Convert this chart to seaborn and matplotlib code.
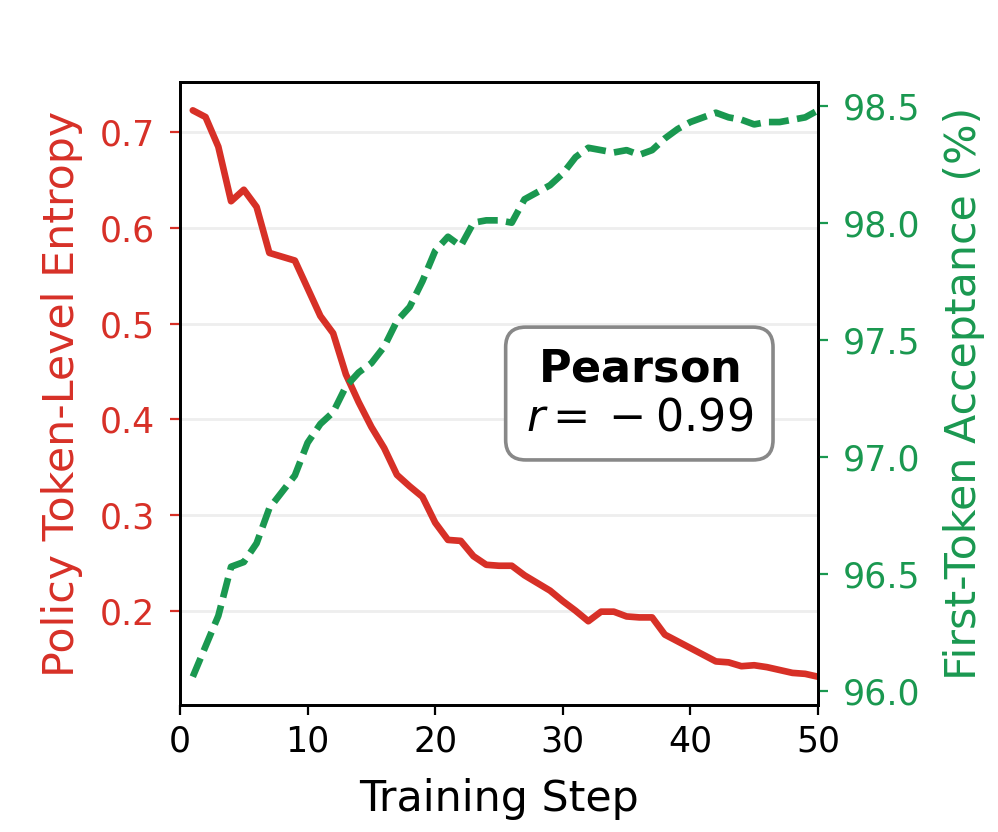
import numpy as np
import matplotlib
matplotlib.use("Agg")
import matplotlib.pyplot as plt
import pandas as pd
import seaborn as sns

# dados
steps = list(range(1, 51))
entropy = [0.723, 0.716, 0.685, 0.628, 0.640, 0.622, 0.574, 0.570, 0.566, 0.537,
           0.508, 0.490, 0.447, 0.418, 0.392, 0.370, 0.342, 0.330, 0.319, 0.292,
           0.274, 0.273, 0.257, 0.248, 0.247, 0.247, 0.237, 0.229, 0.221, 0.210,
           0.200, 0.189, 0.199, 0.199, 0.194, 0.193, 0.193, 0.175, 0.168, 0.161,
           0.154, 0.147, 0.146, 0.142, 0.143, 0.141, 0.138, 0.135, 0.134, 0.131]
acceptance = [96.06, 96.19, 96.32, 96.53, 96.55, 96.63, 96.78, 96.85, 96.92, 97.06,
              97.14, 97.19, 97.30, 97.36, 97.40, 97.47, 97.58, 97.64, 97.75, 97.88,
              97.94, 97.90, 98.00, 98.01, 98.01, 98.00, 98.10, 98.13, 98.16, 98.21,
              98.28, 98.32, 98.31, 98.30, 98.31, 98.29, 98.31, 98.36, 98.40, 98.43,
              98.45, 98.47, 98.45, 98.44, 98.42, 98.43, 98.43, 98.44, 98.45, 98.48]

df = pd.DataFrame({'step': steps, 'entropy': entropy, 'acceptance': acceptance})

red = '#d73027'
green = '#1a9850'

sns.set_style('white')
plt.rcParams['font.family'] = ['DejaVu Sans']
plt.rcParams['text.color'] = 'black'
plt.rcParams['axes.labelcolor'] = 'black'

fig, ax = plt.subplots(figsize=(4.99, 4.16), dpi=200)
fig.subplots_adjust(left=0.1804, right=0.8196, top=0.9014, bottom=0.1526)

# entropia (eixo esquerdo)
sns.lineplot(data=df, x='step', y='entropy', ax=ax, color=red, lw=2.4, legend=False)
ax.set_xlim(0, 50)
ax.set_xlabel('Training Step', fontsize=15.4, color='black', labelpad=7)
ax.set_ylabel('Policy Token-Level Entropy', fontsize=15.4, color=red, labelpad=6)
ax.tick_params(axis='y', colors=red, labelsize=12.5, length=3.6, pad=5.5, direction='out', left=True)
ax.tick_params(axis='x', colors='black', labelsize=12.5, length=3.6, direction='out', bottom=True)
ax.grid(axis='y', color='#eeeeee', lw=1)
ax.set_axisbelow(True)

# aceitacao (eixo direito)
ax2 = ax.twinx()
sns.lineplot(data=df, x='step', y='acceptance', ax=ax2, color=green, lw=2.4, legend=False)
ax2.lines[0].set_dashes((3, 1.25))
ax2.set_ylabel('First-Token Acceptance (%)', fontsize=15.4, color=green, labelpad=8)
ax2.tick_params(axis='y', colors=green, labelsize=12.5, length=3.6, pad=5.5, direction='out', right=True)
ax2.grid(False)

for a in (ax, ax2):
    for s in a.spines.values():
        s.set_visible(True)
        s.set_color('black')
        s.set_linewidth(1.0)

ax.text(0.72, 0.5, '$\\bf{Pearson}$\n$r =\\: -\\: 0.99$', transform=ax.transAxes,
        ha='center', va='center', fontsize=16, multialignment='center', color='black',
        bbox=dict(boxstyle='round,pad=0.45', facecolor='white', edgecolor='#888888', lw=1.3),
        zorder=10)

fig.savefig('out.png', dpi=200)
